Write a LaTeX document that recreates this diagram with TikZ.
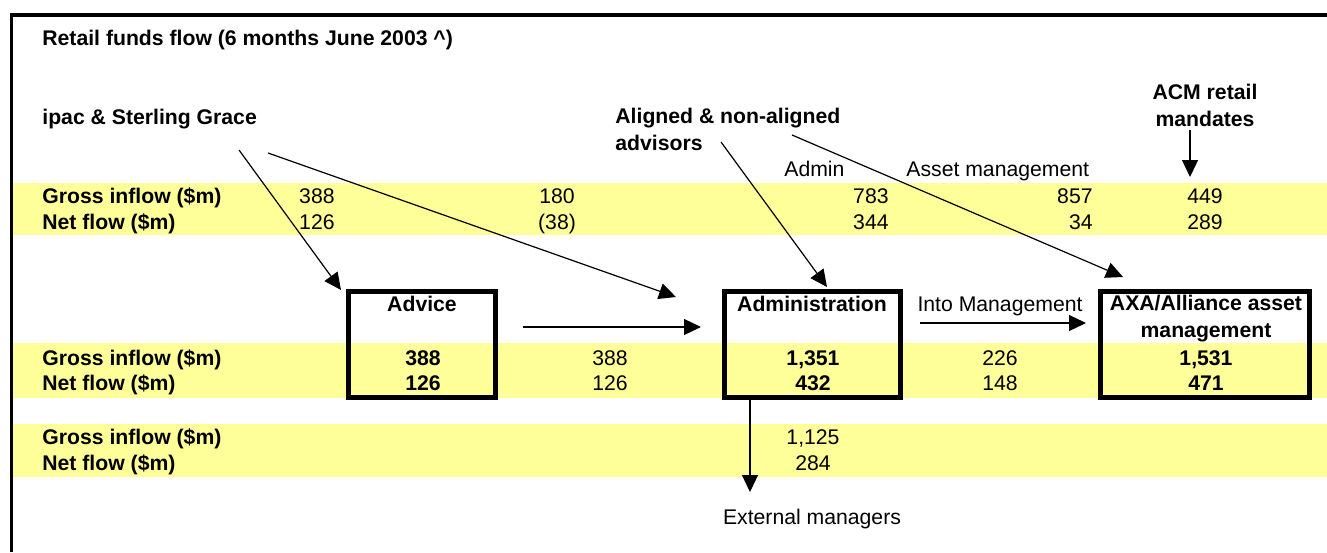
\documentclass[tikz,border=0pt]{standalone}
\usepackage{fontspec}
\setmainfont{Liberation Sans}
\usepackage{xcolor}
\usepackage{tikz}
\usetikzlibrary{arrows.meta}
\definecolor{bandyellow}{RGB}{255,255,153}

\begin{document}
\begin{tikzpicture}[x=0.5pt,y=-0.5pt,
every node/.style={inner sep=0pt,font=\fontsize{10.6pt}{13.5pt}\selectfont},
bold/.style={font=\fontsize{10.6pt}{13.5pt}\selectfont\bfseries},
lbl/.style={bold,anchor=base west},
num/.style={anchor=base},
rnum/.style={anchor=base east},
flowbox/.style={draw,line width=2.5pt,minimum height=53pt},
arr/.style={-{Triangle[length=8.5pt,width=8pt]},line width=0.6pt}]
\useasboundingbox (0,0) rectangle (1327,552);
% yellow bands behind the figures
\fill[bandyellow] (13,183) rectangle (1327,235);
\fill[bandyellow] (13,343) rectangle (1327,398);
\fill[bandyellow] (13,424) rectangle (1327,477);
\draw[line width=1.75pt] (11.5,552) -- (11.5,15) -- (1327,15);
% headings
\node[lbl] (title) at (42,45) {Retail funds flow (6 months June 2003 \textasciicircum)};
\node[lbl] (ipac) at (42,124) {ipac \& Sterling Grace};
\node[lbl,align=left] (aligned) at (615,150) {Aligned \& non-aligned\\advisors};
\node[bold,anchor=base,align=center] (acm) at (1205,126) {ACM retail\\mandates};
\node[anchor=base west] (admlbl) at (784,176) {Admin};
\node[anchor=base west] (amlbl) at (906,176) {Asset management};
% first table
\node[lbl] (g1) at (42,203) {Gross inflow (\$m)};
\node[lbl] (n1) at (42,229) {Net flow (\$m)};
\node[rnum] at (335,203) {388}; \node[rnum] at (335,229) {126};
\node[num] at (557,203) {180}; \node[num] at (557,229) {(38)};
\node[rnum] at (889,203) {783}; \node[rnum] at (889,229) {344};
\node[rnum] at (1093,203) {857}; \node[rnum] at (1093,229) {34};
\node[num] at (1205,203) {449}; \node[num] at (1205,229) {289};
% boxes
\node[flowbox,minimum width=73.25pt] (advice) at (422,344) {};
\node[flowbox,minimum width=88pt] (admin) at (812,344) {};
\node[flowbox,minimum width=104.5pt] (axa) at (1204.5,344) {};
\node[bold,anchor=base] (advt) at (422,311) {Advice};
\node[bold,anchor=base] (admt) at (812,311) {Administration};
\node[anchor=base] (into) at (1000,311) {Into Management};
\node[bold,anchor=base,align=center] (axat) at (1206,337) {AXA/Alliance asset\\management};
% second table
\node[lbl] (g2) at (42,365) {Gross inflow (\$m)};
\node[lbl] (n2) at (42,390) {Net flow (\$m)};
\node[num,bold] at (423,365) {388}; \node[num,bold] at (423,390) {126};
\node[num] at (610,365) {388}; \node[num] at (610,390) {126};
\node[num,bold] at (813,365) {1,351}; \node[num,bold] at (813,390) {432};
\node[num] at (1000,365) {226}; \node[num] at (1000,390) {148};
\node[num,bold] at (1206,365) {1,531}; \node[num,bold] at (1206,390) {471};
% third table
\node[lbl] (g3) at (42,444) {Gross inflow (\$m)};
\node[lbl] (n3) at (42,470) {Net flow (\$m)};
\node[num] at (813,444) {1,125}; \node[num] at (813,470) {284};
\node[anchor=base] (ext) at (812,524) {External managers};
% arrow ends
\coordinate (ipac1) at (239,150); \coordinate (ipac2) at (268,153);
\coordinate (aln1) at (721,142); \coordinate (aln2) at (792,135);
\coordinate (acm1) at (1190,130);
\coordinate (advin) at (341,290); \coordinate (admin1) at (676,297);
\coordinate (admin2) at (827,287); \coordinate (axain) at (1123,277);
\coordinate (acmout) at (1190,177);
\coordinate (advout) at (523,327); \coordinate (admin3) at (701,327);
\coordinate (admout) at (920,323); \coordinate (axain2) at (1086,323);
\coordinate (admdown) at (750,399); \coordinate (extin) at (750,492);
\draw[arr] (ipac1)--(advin); \draw[arr] (ipac2)--(admin1);
\draw[arr] (aln1)--(admin2); \draw[arr] (aln2)--(axain);
\draw[arr] (acm1)--(acmout);
\draw[arr] (advout)--(admin3); \draw[arr] (admout)--(axain2);
\draw[arr] (admdown)--(extin);
\end{tikzpicture}
\end{document}
